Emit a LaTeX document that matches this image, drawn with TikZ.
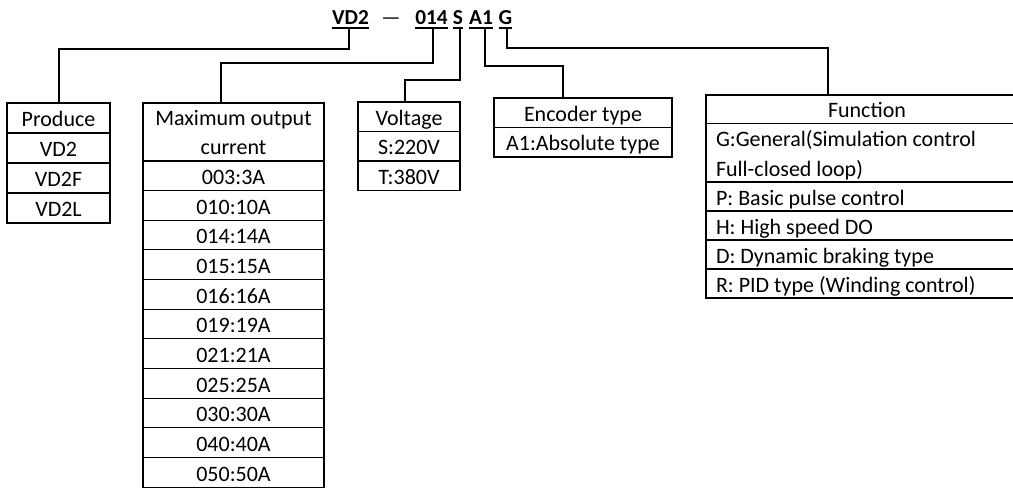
\documentclass[tikz,border=0pt]{standalone}
\usepackage{fontspec}
\setmainfont{Carlito}
\newdimen\px \px=0.75pt
\newcommand\tabfont{\fontsize{16.5}{22.1}\selectfont}
\newcommand\titlefont{\fontsize{16}{20}\selectfont\bfseries}
\begin{document}
\begin{tikzpicture}[x=0.75pt,y=-0.75pt,
  cellbase/.style={draw, line width=0.8pt, inner sep=0pt, outer sep=0pt, anchor=north, font=\tabfont},
  cell/.style={cellbase, text height=14.4pt, text depth=1.3pt},
  cellii/.style={cellbase, align=center},
  fcell/.style={cellbase, text height=14.4pt, text depth=1.3pt, text width=302\px, align=flush left, inner xsep=10\px, minimum width=322\px, execute at begin node={\spaceskip=0pt\xspaceskip=0pt}},
  fcellii/.style={cellbase, text width=302\px, align=flush left, inner xsep=10\px, minimum width=322\px, execute at begin node={\spaceskip=0pt\xspaceskip=0pt}},
  ttl/.style={font=\titlefont, inner sep=0pt, outer sep=0pt, anchor=base},
  uline/.style={line width=1.2pt},
  conn/.style={line width=1.2pt}
]
\useasboundingbox (0,0) rectangle (1013,488);

% title
\node[ttl] (vd2) at (350.5,25) {VD2};
\node[ttl, font=\fontsize{16}{20}\selectfont] (dash) at (391,25) {—};
\node[ttl] (c014) at (431.5,25) {014};
\node[ttl] (cs) at (458,25) {S};
\node[ttl] (ca1) at (481,25) {A1};
\node[ttl] (cg) at (505.5,25) {G};
\foreach \n in {vd2,c014,cs,ca1,cg}{
  \draw[uline] ([yshift=-3\px]\n.base west) -- ([yshift=-3\px]\n.base east);
}

% Produce table
\node[cell, minimum width=103\px, minimum height=30\px] (p0) at (58.5,103) {Produce};
\node[cell, minimum width=103\px, minimum height=30\px] (p1) at (58.5,133) {VD2};
\node[cell, minimum width=103\px, minimum height=30\px] (p2) at (58.5,163) {VD2F};
\node[cell, minimum width=103\px, minimum height=30\px] (p3) at (58.5,193) {VD2L};

% Maximum output current table
\node[cellii, minimum width=181\px, minimum height=58\px] (m0) at (233.5,103) {\rule{0pt}{12.5pt}Maximum output\\current};
\foreach \t [count=\i from 0] in {003:3A,010:10A,014:14A,015:15A,016:16A,019:19A,021:21A,025:25A,030:30A,040:40A,050:50A}{
  \node[cell, minimum width=181\px, minimum height=29.65\px] (m\i r) at (233.5,{161+29.65*\i}) {\t};
}

% Voltage table
\node[cell, minimum width=102\px, minimum height=29.5\px] (v0) at (409,102) {Voltage};
\node[cell, minimum width=102\px, minimum height=29.5\px] (v1) at (409,131.5) {S:220V};
\node[cell, minimum width=102\px, minimum height=29.5\px] (v2) at (409,161) {T:380V};

% Encoder table
\node[cell, minimum width=178\px, minimum height=29.5\px] (e0) at (583,98) {Encoder type};
\node[cell, minimum width=178\px, minimum height=29.5\px] (e1) at (583,127.5) {A1:Absolute type};

% Function table
\node[cell, minimum width=322\px, minimum height=28.5\px] (f0) at (867,95) {Function};
\node[fcellii, minimum height=58.5\px] (f1) at (867,123.5) {\rule{0pt}{15.5pt}G:General(Simulation control\\Full-closed loop)};
\node[fcell, minimum height=29\px] (f2) at (867,182) {P: Basic pulse control};
\node[fcell, minimum height=29\px] (f3) at (867,211) {H: High speed DO};
\node[fcell, minimum height=29\px] (f4) at (867,240) {D: Dynamic braking type};
\node[fcell, minimum height=29\px] (f5) at (867,269) {R: PID type (Winding control)};

% connectors
\draw[conn] ([xshift=-1.5\px,yshift=-3\px]vd2.base) -- ++(0,21) -| ([xshift=0.5\px]p0.north);
\draw[conn] ([xshift=1.5\px,yshift=-3\px]c014.base) -- ++(0,35) -| ([xshift=-12.5\px]m0.north);
\draw[conn] ([xshift=2\px,yshift=-3\px]cs.base) -- ++(0,52) -| ([xshift=-4\px]v0.north);
\draw[conn] ([xshift=4\px,yshift=-3\px]ca1.base) -- ++(0,38) -| ([xshift=-20\px]e0.north);
\draw[conn] ([xshift=1.5\px,yshift=-3\px]cg.base) -- ++(0,20) -| ([xshift=-39\px]f0.north);
\end{tikzpicture}
\end{document}
